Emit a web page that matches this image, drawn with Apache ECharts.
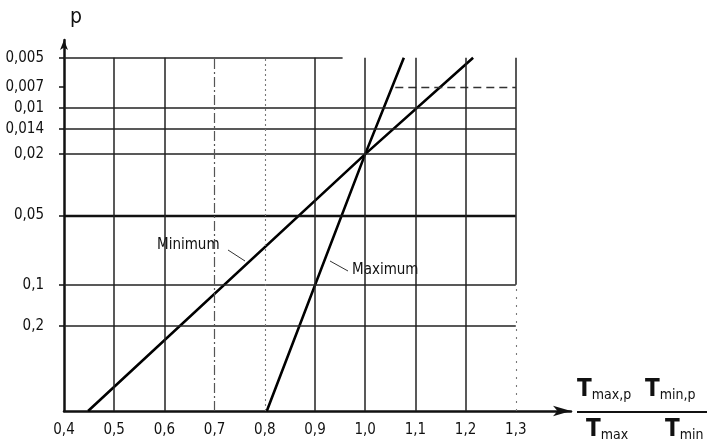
<!DOCTYPE html>
<html>
<head>
<meta charset="utf-8">
<script src="https://cdn.jsdelivr.net/npm/echarts@6/dist/echarts.min.js"></script>
<style>
html, body { margin: 0; padding: 0; background: #fff; }
#chart { width: 707px; height: 444px; }
</style>
</head>
<body>
<div id="chart"></div>
<script>
// x: ratio T_p / T
const xTicks = [0.4, 0.5, 0.6, 0.7, 0.8, 0.9, 1.0, 1.1, 1.2, 1.3]
const xLabels = ['0,4', '0,5', '0,6', '0,7', '0,8', '0,9', '1,0', '1,1', '1,2', '1,3']
// y: probability paper, position of each p on the paper scale (0 = axis, 100 = p 0,005)
const pLabels = ['0,005', '0,007', '0,01', '0,014', '0,02', '0,05', '0,1', '0,2']
const pScale = [100, 91.7, 85.8, 79.8, 72.7, 55.3, 35.7, 24.1]
// lines [ratio, paper position]
const minimumLine = [[0.448, 0], [1.0, 72.7], [1.215, 100]]
const maximumLine = [[0.804, 0], [1.0, 72.7], [1.077, 100]]

const font = "'DejaVu Sans Condensed', 'DejaVu Sans', sans-serif"
const ink = '#111'

const grid = (a, b, style) => [{ coord: a, lineStyle: style }, { coord: b }]
const solid = { color: '#222', width: 1.5, type: 'solid' }

const gridLines = []
// horizontal
pScale.forEach((u, i) => {
  if (pLabels[i] === '0,005') gridLines.push(grid([0.4, u], [0.955, u], solid))
  else if (pLabels[i] === '0,007') gridLines.push(grid([1.06, u], [1.3, u], { color: '#333', width: 1.3, type: [8, 5] }))
  else if (pLabels[i] === '0,05') gridLines.push(grid([0.4, u], [1.3, u], { color: '#111', width: 2.4, type: 'solid' }))
  else gridLines.push(grid([0.4, u], [1.3, u], solid))
})
// vertical
xTicks.slice(1).forEach((x, i) => {
  if (xLabels[i + 1] === '0,7') gridLines.push(grid([x, 0], [x, 100], { color: '#555', width: 1.2, type: [10, 3, 2, 3] }))
  else if (xLabels[i + 1] === '0,8') gridLines.push(grid([x, 0], [x, 100], { color: '#777', width: 1.1, type: [2, 3] }))
  else if (xLabels[i + 1] === '1,3') {
    gridLines.push(grid([x, 35.7], [x, 100], solid))
    gridLines.push(grid([x, 0], [x, 35.7], { color: '#777', width: 1.1, type: [2, 6] }))
  } else gridLines.push(grid([x, 0], [x, 100], solid))
})

const rich = {
  T: { fontSize: 24, fontWeight: 'bold', fontFamily: font, verticalAlign: 'bottom', lineHeight: 24 },
  s: { fontSize: 14, fontFamily: font, verticalAlign: 'bottom', lineHeight: 18 }
}

const chart = echarts.init(document.getElementById('chart'))
const option = {
  animation: false,
  backgroundColor: '#fff',
  grid: { left: 64, top: 40, width: 507, height: 371, outerBoundsMode: 'none', containLabel: false },
  xAxis: {
    type: 'value',
    min: 0.4,
    max: 1.41,
    splitLine: { show: false },
    axisLine: { lineStyle: { color: ink, width: 2.5 }, symbol: ['none', 'arrow'], symbolSize: [8, 18] },
    axisTick: { show: false },
    axisLabel: {
      customValues: xTicks,
      margin: 12,
      color: ink,
      fontFamily: font,
      fontSize: 15,
      formatter: v => xLabels[xTicks.indexOf(v)]
    }
  },
  yAxis: {
    type: 'value',
    min: 0,
    max: 105,
    name: 'p',
    nameLocation: 'end',
    nameGap: 12,
    nameTextStyle: { color: ink, fontFamily: font, fontSize: 21, align: 'left', padding: [0, 0, 0, 6] },
    splitLine: { show: false },
    axisLine: { lineStyle: { color: ink, width: 2.5 }, symbol: ['none', 'arrow'], symbolSize: [6, 10] },
    axisTick: { customValues: pScale, length: 5, lineStyle: { color: ink, width: 1.5 } },
    axisLabel: {
      customValues: pScale,
      margin: 20,
      color: ink,
      fontFamily: font,
      fontSize: 15,
      formatter: v => pLabels[pScale.indexOf(v)]
    }
  },
  series: [
    {
      type: 'line',
      data: [],
      silent: true,
      markLine: {
        silent: true,
        symbol: ['none', 'none'],
        label: { show: false },
        data: gridLines
      }
    },
    {
      name: 'Minimum',
      type: 'line',
      data: minimumLine,
      showSymbol: false,
      lineStyle: { color: '#000', width: 2.6 }
    },
    {
      name: 'Maximum',
      type: 'line',
      data: maximumLine,
      showSymbol: false,
      lineStyle: { color: '#000', width: 2.6 }
    }
  ],
  graphic: [
    { type: 'text', left: 157, top: 238, style: { text: 'Minimum', font: '15px ' + font, fill: ink } },
    { type: 'line', shape: { x1: 228, y1: 250, x2: 245, y2: 261 }, style: { stroke: '#333', lineWidth: 1 } },
    { type: 'text', left: 352, top: 263, style: { text: 'Maximum', font: '15px ' + font, fill: ink } },
    { type: 'line', shape: { x1: 330, y1: 261, x2: 348, y2: 271 }, style: { stroke: '#333', lineWidth: 1 } },
    { type: 'text', left: 577, top: 378, style: { text: '{T|T}{s|max,p}', fill: ink, rich } },
    { type: 'text', left: 645, top: 378, style: { text: '{T|T}{s|min,p}', fill: ink, rich } },
    { type: 'line', shape: { x1: 577, y1: 412, x2: 707, y2: 412 }, style: { stroke: ink, lineWidth: 2 } },
    { type: 'text', left: 586, top: 418, style: { text: '{T|T}{s|max}', fill: ink, rich } },
    { type: 'text', left: 665, top: 418, style: { text: '{T|T}{s|min}', fill: ink, rich } }
  ]
}
chart.setOption(option)
</script>
</body>
</html>
